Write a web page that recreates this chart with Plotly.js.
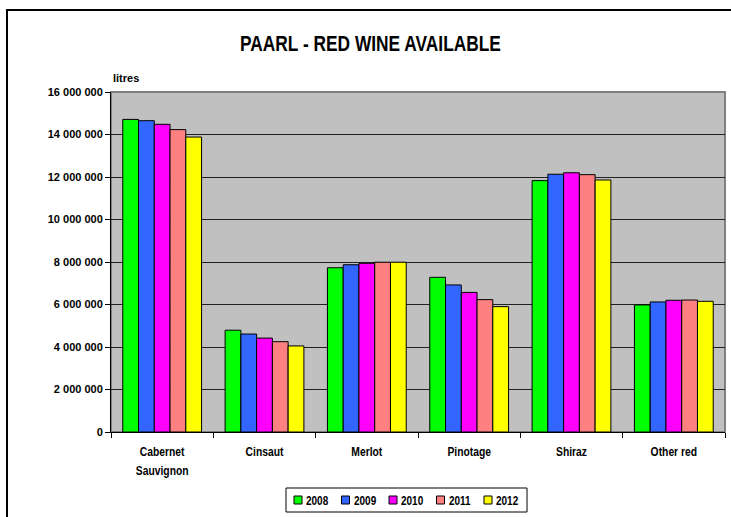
<!DOCTYPE html>
<html><head><meta charset="utf-8">
<script src="https://cdn.plot.ly/plotly-3.0.1.min.js"></script>
<style>
html,body{margin:0;padding:0;background:#fff;}
#wrap{position:relative;width:731px;height:517px;overflow:hidden;}
#chart{position:absolute;left:0;top:0;width:731px;height:517px;}
#frame{position:absolute;left:6px;top:9px;width:740px;height:520px;border-left:2px solid #000;border-top:2px solid #000;pointer-events:none;}
</style></head>
<body><div id="wrap"><div id="chart"></div><div id="frame"></div></div>
<script>
const categories = ["Cabernet<br>Sauvignon", "Cinsaut", "Merlot", "Pinotage", "Shiraz", "Other red"];
const years = ["2008", "2009", "2010", "2011", "2012"];
const v2008 = [14710000, 4790000, 7730000, 7280000, 11830000, 5980000];
const v2009 = [14650000, 4610000, 7870000, 6920000, 12130000, 6120000];
const v2010 = [14480000, 4420000, 7940000, 6570000, 12200000, 6200000];
const v2011 = [14230000, 4250000, 7990000, 6230000, 12110000, 6210000];
const v2012 = [13880000, 4050000, 7990000, 5900000, 11860000, 6150000];
const colors = ["#00FF00", "#3366FF", "#FF00FF", "#FF8080", "#FFFF00"];
const series = [v2008, v2009, v2010, v2011, v2012];

const FONT = "Liberation Sans, Arial, sans-serif";
const W = 731, H = 517, L = 111, R = 6, T = 92, B = 85;
const PW = W - L - R, PH = H - T - B;
const px = x => (x - L) / PW;          // pixel -> paper x
const py = y => (H - B - y) / PH;      // pixel -> paper y

const traces = series.map((vals, i) => ({
  type: "bar", name: years[i], x: categories, y: vals,
  marker: {color: colors[i], line: {color: "#000", width: 1}},
  hoverinfo: "y"
}));

// manual legend (box, swatches, labels) built from years/colors
const shapes = [
  {type: "rect", xref: "paper", yref: "paper", x0: 0, x1: 1, y0: 0, y1: 1,
   line: {color: "#808080", width: 2}, layer: "below"},
  {type: "rect", xref: "paper", yref: "paper", x0: px(286), x1: px(527), y0: py(512), y1: py(488),
   fillcolor: "#fff", line: {color: "#000", width: 1}}
];
const annotations = [
  {text: "<b>litres</b>", xref: "paper", yref: "paper", x: 0, y: 1, xanchor: "left", yanchor: "bottom",
   yshift: 6, showarrow: false, font: {family: FONT, size: 11, color: "#000"}}
];
years.forEach((yr, i) => {
  const x0 = 294 + i * 47.5;
  shapes.push({type: "rect", xref: "paper", yref: "paper", x0: px(x0), x1: px(x0 + 8), y0: py(504), y1: py(496),
               fillcolor: colors[i], line: {color: "#000", width: 1}});
  annotations.push({text: "<b>" + yr + "</b>", xref: "paper", yref: "paper", x: px(x0 + 10), y: py(500.5),
                    xanchor: "left", yanchor: "middle", showarrow: false, captureevents: false,
                    font: {family: FONT, size: 13.5, color: "#000"}});
});

const layout = {
  width: W, height: H,
  margin: {l: L, r: R, t: T, b: B, autoexpand: false},
  paper_bgcolor: "#fff", plot_bgcolor: "#C0C0C0",
  separators: ". ",
  barmode: "group", bargap: 0.23, bargroupgap: 0,
  title: {text: "<b>PAARL - RED WINE AVAILABLE</b>", x: 370.5 / W, xref: "container", xanchor: "center",
          y: 1 - 43.5 / H, yref: "container", yanchor: "middle",
          font: {family: FONT, size: 22, color: "#000"}},
  xaxis: {type: "category", tickson: "boundaries", ticks: "outside", ticklen: 5, tickcolor: "#000",
          showline: true, linecolor: "#000", linewidth: 1, showgrid: false, ticklabelstandoff: 9,
          tickfont: {family: FONT, size: 12, color: "#000", weight: "bold"}},
  yaxis: {range: [0, 16000000], dtick: 2000000, tickformat: ",d", ticks: "outside", ticklen: 5, tickcolor: "#000",
          showline: true, linecolor: "#000", linewidth: 1, showgrid: true, gridcolor: "#222", gridwidth: 1,
          zeroline: false, tickfont: {family: FONT, size: 11, color: "#000", weight: "bold"}},
  showlegend: false,
  shapes: shapes,
  annotations: annotations
};

function squeeze(el, sx, anchor) {
  const bb = el.getBBox();
  const cx = anchor === "start" ? bb.x : anchor === "end" ? bb.x + bb.width : bb.x + bb.width / 2;
  const t = el.getAttribute("transform") || "";
  el.setAttribute("transform", t + " translate(" + cx + ",0) scale(" + sx + ",1) translate(" + (-cx) + ",0)");
}

Plotly.newPlot("chart", traces, layout, {displayModeBar: false, staticPlot: true}).then(gd => {
  const title = gd.querySelector(".gtitle");
  if (title) { const w = title.getBBox().width; squeeze(title, 261 / w, "middle"); }
  gd.querySelectorAll(".xtick text").forEach(t => {
    t.querySelectorAll("tspan.line").forEach((s, k) => { if (k > 0) s.setAttribute("dy", "1.55em"); });
    squeeze(t, 0.86, "middle");
  });
  gd.querySelectorAll(".annotation-text").forEach(t => {
    if (/^20\d\d$/.test(t.textContent)) squeeze(t, 0.74, "start");
  });
});
</script></body></html>
